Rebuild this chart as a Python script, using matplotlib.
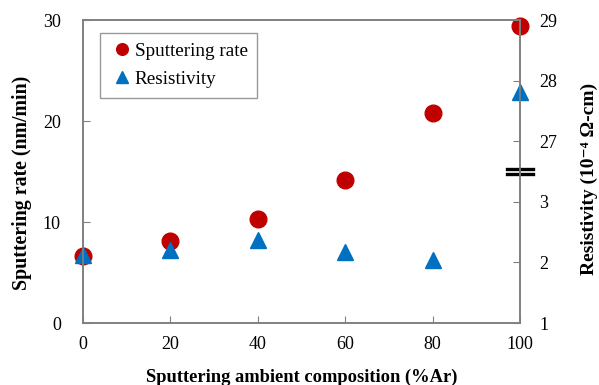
import numpy as np
import matplotlib.pyplot as plt

plt.rcParams['font.family'] = ['Liberation Serif', 'DejaVu Serif']

# data
ar_percent = [0, 20, 40, 60, 80, 100]
sput_rate = [6.6, 8.1, 10.3, 14.2, 20.8, 29.4]
resistivity = [2.12, 2.2, 2.37, 2.17, 2.04, 27.82]
res_ticks = [1, 2, 3, 27, 28, 29]


# broken right axis: 1-3 and 27-29 get equal room, 3-27 squeezed into one step
def fwd(r):
    r = np.asarray(r, dtype=float)
    return np.where(r <= 3, r - 1, np.where(r >= 27, r - 24, 2 + (r - 3) / 24))


def inv(y):
    y = np.asarray(y, dtype=float)
    return np.where(y <= 2, y + 1, np.where(y >= 3, y + 24, 3 + (y - 2) * 24))


fig = plt.figure(figsize=(5.99, 3.85), dpi=100)
ax = fig.add_axes([0.1386, 0.161, 0.7294, 0.787])
ax2 = ax.twinx()

red = '#C00000'
blue = '#0070C0'

l1, = ax.plot(ar_percent, sput_rate, 'o', color=red, markersize=12,
              clip_on=False, label='Sputtering rate')
ax.set_xlim(0, 100)
ax.set_ylim(0, 30)
ax.set_xticks([0, 20, 40, 60, 80, 100])
ax.set_yticks([0, 10, 20, 30])

ax2.set_yscale('function', functions=(fwd, inv))
ax2.set_ylim(1, 29)
ax2.set_yticks(res_ticks)
ax2.set_yticklabels([str(t) for t in res_ticks])
l2, = ax2.plot(ar_percent, resistivity, '^', color=blue, markersize=12,
               clip_on=False, label='Resistivity')

ax.set_zorder(0)
ax2.set_zorder(1)
ax2.patch.set_visible(False)

for a in (ax, ax2):
    for s in a.spines.values():
        s.set_color('#808080')
        s.set_linewidth(1.2)
    a.tick_params(direction='in', length=5, color='#808080', labelsize=13)

ax.tick_params(axis='x', pad=9)
ax.tick_params(axis='y', pad=16)
ax2.tick_params(axis='y', pad=14)

ax.set_xlabel('Sputtering ambient composition (%Ar)', fontsize=13.3, fontweight='bold', labelpad=12)
ax.set_ylabel('Sputtering rate (nm/min)', fontsize=14.3, fontweight='bold')
ax2.set_ylabel('Resistivity (10⁻⁴ Ω-cm)', fontsize=14, fontweight='bold')
ax.yaxis.set_label_coords(-0.117, 0.462)
ax2.yaxis.set_label_coords(1.14, 0.475)

# axis break mark on the right spine
for yb in (0.491, 0.509):
    ax.plot([0.97, 1.03], [yb, yb], color='black', lw=2.4,
            transform=ax.transAxes, clip_on=False, zorder=5)

leg = ax2.legend(handles=[l1, l2], loc='upper left', bbox_to_anchor=(0.039, 0.957),
                 borderaxespad=0, fontsize=13.8, frameon=True, fancybox=False,
                 handletextpad=0.0, handlelength=1.3, borderpad=0.5,
                 labelspacing=0.55, markerscale=0.7)
leg.get_frame().set_edgecolor('#808080')
leg.get_frame().set_linewidth(1.0)

fig.savefig('out.png', dpi=100)
